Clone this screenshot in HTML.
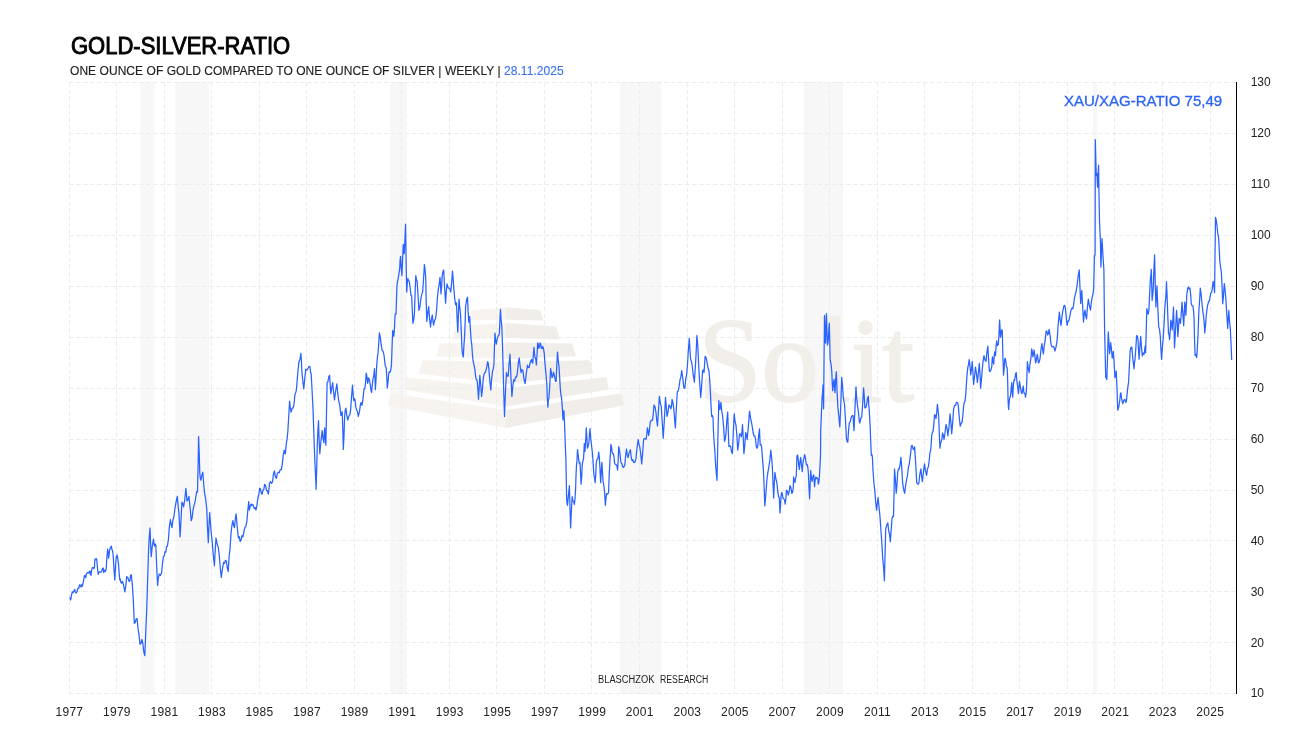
<!DOCTYPE html>
<html><head><meta charset="utf-8">
<style>
html,body{margin:0;padding:0;background:#fff;}
body{width:1307px;height:735px;position:relative;overflow:hidden;-webkit-font-smoothing:antialiased;font-family:"Liberation Sans",sans-serif;color:#1a1a1a;}
svg{position:absolute;left:0;top:0;}
.txt{position:absolute;left:0;top:0;width:1307px;height:735px;will-change:transform;}
.title{position:absolute;left:71px;top:33.3px;font-size:23px;font-weight:normal;-webkit-text-stroke:0.9px #000;line-height:26px;white-space:nowrap;color:#000;transform:scaleX(0.956);transform-origin:0 0;}
.sub{position:absolute;left:70px;top:64px;font-size:12px;letter-spacing:0.05px;-webkit-text-stroke:0.15px currentColor;line-height:15px;white-space:nowrap;color:#222;}
.sub span{color:#3d74f0;}
.ratio{position:absolute;left:1064px;top:92px;font-size:15px;font-weight:normal;-webkit-text-stroke:0.3px #2b63f5;letter-spacing:0px;line-height:18px;white-space:nowrap;color:#2b63f5;}
.yl{position:absolute;left:1250.7px;font-size:12px;line-height:14px;color:#222;}
.xl{position:absolute;top:705px;letter-spacing:0.3px;width:60px;text-align:center;font-size:12px;line-height:14px;color:#222;}
.br{position:absolute;top:673.5px;font-size:10px;line-height:12px;color:#222;white-space:nowrap;transform-origin:0 0;}
</style></head><body>
<svg width="1307" height="735" viewBox="0 0 1307 735">
<rect x="140.4" y="82" width="13.9" height="612" fill="#f7f7f7"/>
<rect x="175.4" y="82" width="34.0" height="612" fill="#f7f7f7"/>
<rect x="389.9" y="82" width="17.2" height="612" fill="#f7f7f7"/>
<rect x="619.8" y="82" width="41.5" height="612" fill="#f7f7f7"/>
<rect x="803.8" y="82" width="39.4" height="612" fill="#f7f7f7"/>
<rect x="1093.0" y="82" width="4.3" height="612" fill="#f7f7f7"/>
<polygon points="506.0,307.3 472.0,310.0 468.3,320.5 506.0,319.8" fill="#f7f4ef"/><polygon points="506.0,307.3 540.0,310.0 543.7,320.5 506.0,319.8" fill="#f1eeea"/><polygon points="506.0,322.8 456.0,326.5 452.0,339.5 506.0,338.0" fill="#f7f4ef"/><polygon points="506.0,322.8 556.0,326.5 560.0,339.5 506.0,338.0" fill="#f1eeea"/><polygon points="506.0,342.5 440.0,343.5 436.0,356.3 506.0,359.0" fill="#f7f4ef"/><polygon points="506.0,342.5 572.0,343.5 576.0,356.3 506.0,359.0" fill="#f1eeea"/><polygon points="506.0,362.0 422.0,360.2 419.0,373.5 506.0,384.0" fill="#f7f4ef"/><polygon points="506.0,362.0 590.0,360.2 593.0,373.5 506.0,384.0" fill="#f1eeea"/><polygon points="506.0,388.0 405.5,377.0 403.5,389.5 506.0,406.5" fill="#f7f4ef"/><polygon points="506.0,388.0 606.5,377.0 608.5,389.5 506.0,406.5" fill="#f1eeea"/><polygon points="506.0,410.0 390.0,393.2 388.0,405.6 506.0,428.0" fill="#f7f4ef"/><polygon points="506.0,410.0 622.0,393.2 624.0,405.6 506.0,428.0" fill="#f1eeea"/>
<text x="698" y="400.5" font-family="Liberation Serif" font-size="121" fill="#f2efea" stroke="#f2efea" stroke-width="2" textLength="216" lengthAdjust="spacingAndGlyphs">Solit</text>
<g stroke="#ececec" stroke-width="1" stroke-dasharray="4.6 2.4"><line x1="69" y1="82.5" x2="1236" y2="82.5"/><line x1="69" y1="133.5" x2="1236" y2="133.5"/><line x1="69" y1="184.5" x2="1236" y2="184.5"/><line x1="69" y1="235.5" x2="1236" y2="235.5"/><line x1="69" y1="286.5" x2="1236" y2="286.5"/><line x1="69" y1="337.5" x2="1236" y2="337.5"/><line x1="69" y1="388.5" x2="1236" y2="388.5"/><line x1="69" y1="439.5" x2="1236" y2="439.5"/><line x1="69" y1="490.5" x2="1236" y2="490.5"/><line x1="69" y1="540.5" x2="1236" y2="540.5"/><line x1="69" y1="591.5" x2="1236" y2="591.5"/><line x1="69" y1="642.5" x2="1236" y2="642.5"/><line x1="69" y1="693.5" x2="1236" y2="693.5"/><line x1="69.5" y1="82.5" x2="69.5" y2="694"/><line x1="116.5" y1="82.5" x2="116.5" y2="694"/><line x1="164.5" y1="82.5" x2="164.5" y2="694"/><line x1="211.5" y1="82.5" x2="211.5" y2="694"/><line x1="259.5" y1="82.5" x2="259.5" y2="694"/><line x1="306.5" y1="82.5" x2="306.5" y2="694"/><line x1="354.5" y1="82.5" x2="354.5" y2="694"/><line x1="401.5" y1="82.5" x2="401.5" y2="694"/><line x1="449.5" y1="82.5" x2="449.5" y2="694"/><line x1="496.5" y1="82.5" x2="496.5" y2="694"/><line x1="544.5" y1="82.5" x2="544.5" y2="694"/><line x1="591.5" y1="82.5" x2="591.5" y2="694"/><line x1="639.5" y1="82.5" x2="639.5" y2="694"/><line x1="687.5" y1="82.5" x2="687.5" y2="694"/><line x1="734.5" y1="82.5" x2="734.5" y2="694"/><line x1="782.5" y1="82.5" x2="782.5" y2="694"/><line x1="829.5" y1="82.5" x2="829.5" y2="694"/><line x1="877.5" y1="82.5" x2="877.5" y2="694"/><line x1="924.5" y1="82.5" x2="924.5" y2="694"/><line x1="972.5" y1="82.5" x2="972.5" y2="694"/><line x1="1019.5" y1="82.5" x2="1019.5" y2="694"/><line x1="1067.5" y1="82.5" x2="1067.5" y2="694"/><line x1="1114.5" y1="82.5" x2="1114.5" y2="694"/><line x1="1162.5" y1="82.5" x2="1162.5" y2="694"/><line x1="1210.5" y1="82.5" x2="1210.5" y2="694"/></g>
<path d="M69.5,598.1 L70.0,597.8 L70.5,600.0 L71.0,598.6 L71.4,595.2 L72.4,591.8 L73.3,592.6 L74.3,590.0 L74.8,589.4 L75.2,591.9 L76.2,593.0 L77.1,591.4 L77.9,588.3 L78.7,588.5 L79.5,584.8 L80.0,584.9 L80.5,586.7 L81.2,586.9 L81.9,584.3 L82.2,584.4 L82.4,586.2 L83.3,582.1 L84.3,576.2 L84.9,575.3 L85.5,577.1 L85.8,577.7 L86.2,574.3 L87.4,572.6 L88.6,572.9 L89.0,573.1 L89.5,571.0 L90.1,571.4 L90.7,575.2 L91.1,575.2 L91.4,571.0 L92.3,567.7 L93.3,567.6 L93.9,568.7 L94.5,567.1 L94.8,560.9 L95.2,559.0 L95.7,559.7 L96.2,558.6 L96.7,559.2 L97.1,563.8 L97.7,570.3 L98.3,574.3 L99.2,572.1 L100.0,571.9 L101.0,572.2 L101.9,570.5 L102.6,568.1 L103.3,568.1 L103.5,572.2 L103.8,572.4 L104.6,570.1 L105.4,571.5 L106.2,568.6 L106.7,560.2 L107.1,555.2 L107.3,553.4 L107.6,549.0 L108.1,552.0 L108.6,558.1 L109.0,555.2 L109.5,550.5 L110.5,547.5 L111.4,546.2 L111.9,549.4 L112.4,550.5 L112.8,552.0 L113.3,557.1 L114.0,569.9 L114.8,580.0 L115.5,567.1 L116.2,556.7 L116.7,557.4 L117.1,554.8 L117.8,558.4 L118.6,564.8 L119.2,573.6 L119.8,580.0 L120.2,578.8 L120.6,581.4 L121.5,583.2 L122.5,581.4 L123.7,585.5 L124.8,591.9 L125.8,585.9 L126.7,576.7 L127.8,577.5 L129.0,581.4 L129.8,581.2 L130.6,575.2 L131.4,574.8 L131.9,581.2 L132.4,585.2 L133.4,602.1 L134.3,623.3 L135.2,622.7 L136.2,618.8 L137.1,618.6 L138.1,629.0 L139.0,634.7 L140.0,644.3 L140.9,643.4 L141.9,639.5 L142.9,644.0 L143.8,652.0 L144.8,655.7 L145.8,631.0 L146.7,610.0 L147.6,581.1 L148.6,549.0 L149.3,536.5 L150.0,528.0 L150.6,543.5 L151.2,556.6 L152.3,546.1 L153.5,539.2 L154.1,544.3 L154.6,546.2 L155.2,544.0 L155.8,545.0 L156.7,566.7 L157.6,585.5 L158.4,577.8 L159.3,574.0 L160.4,575.5 L161.6,572.8 L162.5,563.2 L163.4,556.6 L164.2,556.2 L165.0,551.6 L165.8,552.1 L166.6,546.6 L167.4,546.2 L168.4,539.5 L169.4,526.4 L170.4,519.5 L171.2,524.7 L172.0,527.6 L173.0,519.7 L174.0,516.3 L175.0,508.0 L176.2,501.4 L177.3,496.4 L178.1,505.9 L178.9,512.6 L179.5,523.7 L180.1,536.9 L181.0,520.5 L181.9,502.2 L182.8,503.6 L183.6,506.8 L184.8,499.4 L185.9,488.3 L186.4,493.7 L187.0,501.0 L187.9,499.8 L188.9,496.4 L190.1,507.2 L191.2,520.7 L192.1,517.7 L193.1,509.7 L194.0,505.6 L195.2,501.2 L196.3,494.0 L196.9,491.3 L197.5,491.8 L198.1,466.3 L198.6,436.7 L199.2,453.0 L199.8,473.2 L200.4,478.7 L200.9,480.2 L201.9,475.0 L202.8,472.1 L203.6,483.3 L204.4,491.8 L205.6,498.6 L206.7,508.0 L207.5,527.4 L208.3,542.7 L209.0,525.5 L209.7,512.6 L210.5,524.0 L211.3,533.4 L212.3,543.2 L213.4,556.1 L214.4,565.8 L215.2,550.8 L216.0,538.0 L217.2,544.1 L218.3,547.3 L219.3,555.7 L220.3,568.5 L221.3,577.4 L222.4,569.1 L223.6,562.4 L224.5,563.4 L225.5,560.3 L226.4,561.2 L227.3,568.0 L228.2,571.6 L229.1,556.7 L230.1,547.9 L231.0,533.4 L231.9,525.5 L232.9,520.7 L233.7,525.8 L234.5,527.6 L235.3,519.0 L236.1,513.8 L237.2,526.8 L238.4,538.0 L239.3,536.7 L240.1,541.5 L241.0,540.4 L241.9,535.7 L242.9,536.9 L243.8,532.3 L244.8,527.5 L245.8,526.7 L246.8,521.9 L247.8,510.8 L248.7,501.6 L249.1,507.5 L249.4,510.0 L250.2,506.1 L251.1,504.0 L251.9,505.7 L252.8,504.6 L253.6,506.5 L254.4,508.7 L255.2,507.6 L256.0,510.0 L256.9,505.4 L257.9,498.2 L258.8,494.6 L259.7,488.1 L260.5,489.2 L261.4,493.5 L262.2,494.2 L263.0,490.1 L263.8,489.7 L264.6,484.4 L265.5,485.2 L266.5,490.3 L267.4,490.6 L268.3,494.2 L268.9,490.0 L269.5,483.2 L270.5,481.5 L271.5,483.4 L272.5,482.0 L273.4,474.5 L274.4,470.9 L275.4,476.8 L276.4,478.3 L277.2,473.8 L278.1,472.2 L279.2,472.8 L280.2,469.6 L281.3,469.7 L282.3,464.1 L283.2,455.4 L284.2,450.1 L284.8,453.1 L285.4,453.8 L286.2,444.1 L287.1,439.3 L287.9,430.5 L288.8,415.0 L289.6,401.1 L290.4,408.7 L291.1,412.1 L292.1,408.1 L293.0,408.2 L294.0,404.8 L294.6,397.7 L295.2,393.7 L295.9,392.1 L296.5,388.8 L297.7,373.8 L298.9,361.9 L299.9,359.8 L300.9,353.3 L301.4,360.5 L301.9,371.7 L302.9,382.0 L303.8,388.8 L304.8,377.8 L305.8,369.2 L307.0,369.9 L308.2,368.0 L309.1,366.4 L310.0,366.8 L310.6,372.3 L311.2,374.1 L312.1,391.0 L313.1,410.9 L314.0,438.5 L314.9,462.4 L315.5,474.6 L316.1,489.3 L316.7,468.4 L317.3,445.2 L317.9,431.0 L318.5,420.7 L319.1,439.4 L319.8,453.8 L321.0,440.2 L322.2,430.5 L323.0,438.5 L323.9,442.7 L324.3,433.4 L324.7,428.0 L325.3,438.4 L325.9,445.2 L326.5,412.8 L327.1,382.7 L327.9,381.8 L328.8,376.5 L329.6,375.3 L330.2,385.3 L330.8,393.7 L331.8,387.4 L332.7,382.7 L333.6,392.5 L334.5,399.9 L335.7,390.7 L336.9,383.9 L337.8,393.7 L338.6,399.9 L339.8,405.5 L340.9,415.4 L341.5,415.0 L342.2,411.7 L342.8,428.4 L343.3,449.4 L344.0,435.5 L344.6,417.2 L345.2,410.5 L345.9,408.1 L346.8,415.4 L347.7,420.0 L348.6,416.6 L349.5,415.4 L350.1,413.8 L350.6,409.9 L351.6,396.4 L352.5,385.1 L353.1,394.0 L353.8,400.7 L354.4,398.6 L355.0,399.8 L355.8,406.9 L356.5,409.9 L357.4,411.1 L358.3,416.3 L359.5,411.4 L360.6,403.5 L361.3,402.7 L362.0,405.3 L362.9,399.4 L363.9,389.7 L364.4,388.3 L364.8,388.8 L365.5,382.7 L366.2,373.2 L366.9,376.2 L367.5,383.3 L367.9,382.4 L368.4,377.8 L369.4,379.6 L370.3,385.1 L371.0,390.3 L371.6,392.5 L372.3,384.6 L373.0,378.7 L373.8,375.6 L374.5,368.6 L374.9,377.9 L375.4,389.7 L376.0,379.7 L376.7,365.9 L377.4,357.3 L378.0,353.0 L378.7,344.3 L379.4,332.8 L380.4,337.9 L381.3,345.7 L382.2,350.6 L383.1,351.2 L384.1,355.8 L385.0,364.0 L385.6,366.9 L386.2,367.7 L386.8,376.8 L387.3,387.9 L388.0,382.5 L388.6,375.0 L389.2,371.6 L389.9,372.3 L390.6,371.0 L391.4,365.9 L391.9,352.0 L392.3,340.2 L392.5,337.4 L392.7,330.6 L393.2,331.2 L393.8,336.1 L394.5,327.3 L395.1,315.0 L395.6,313.3 L396.0,314.1 L396.4,301.9 L396.9,286.6 L397.5,281.5 L398.2,278.3 L398.9,274.1 L399.7,268.2 L400.1,260.1 L400.6,256.3 L401.2,267.7 L401.9,275.6 L402.6,258.5 L403.3,244.4 L403.8,251.1 L404.3,253.5 L405.0,237.4 L405.6,224.2 L406.1,260.2 L406.7,292.1 L407.3,283.2 L407.9,278.3 L408.5,280.8 L409.2,281.1 L409.9,285.9 L410.7,293.0 L411.1,295.6 L411.6,295.7 L412.2,308.4 L412.9,323.3 L413.6,320.3 L414.4,314.1 L415.1,293.7 L415.8,275.6 L416.5,279.7 L417.1,281.1 L418.0,294.8 L418.9,310.4 L419.9,307.0 L420.8,299.4 L421.7,294.5 L422.6,292.1 L423.5,279.7 L424.4,264.5 L425.0,269.3 L425.7,277.4 L426.2,301.5 L426.8,321.4 L427.8,312.7 L428.7,306.7 L429.6,318.9 L430.5,326.9 L431.4,319.4 L432.3,315.0 L433.0,321.6 L433.6,325.1 L434.6,320.4 L435.5,318.7 L436.1,314.5 L436.7,308.6 L437.4,298.0 L438.2,290.2 L439.1,284.9 L440.0,277.4 L440.5,284.8 L441.0,293.9 L441.6,286.7 L442.2,275.6 L442.9,271.8 L443.7,270.0 L444.6,288.0 L445.6,303.1 L446.3,291.6 L447.0,283.8 L448.1,287.7 L449.2,288.4 L449.9,289.0 L450.7,292.1 L451.6,283.1 L452.5,271.0 L453.1,278.1 L453.8,288.4 L454.7,298.5 L455.6,304.9 L456.1,302.9 L456.5,302.8 L457.1,319.1 L457.8,332.2 L458.4,314.6 L459.0,299.2 L459.8,307.7 L460.5,313.9 L461.2,329.4 L462.0,348.7 L462.6,354.4 L463.3,357.0 L463.9,345.8 L464.5,337.7 L465.1,324.0 L465.6,306.5 L466.6,299.8 L467.5,297.3 L468.1,311.1 L468.8,322.1 L469.2,317.7 L469.7,316.6 L470.4,329.6 L471.1,339.5 L471.8,345.3 L472.4,354.2 L473.1,361.0 L473.9,364.3 L474.8,368.8 L475.6,376.2 L476.3,379.6 L477.0,379.9 L477.8,388.1 L478.5,399.2 L479.1,389.4 L479.8,375.3 L480.7,384.1 L481.6,396.4 L482.5,388.8 L483.4,377.2 L484.4,372.8 L485.3,372.6 L486.5,368.3 L487.7,361.6 L488.3,363.7 L488.9,368.9 L489.9,381.6 L490.8,390.0 L491.7,378.4 L492.6,370.7 L493.2,368.9 L493.9,365.2 L494.4,348.2 L495.0,333.1 L495.6,340.0 L496.3,344.1 L497.2,339.1 L498.1,335.9 L498.8,335.6 L499.4,333.1 L499.9,320.3 L500.5,309.3 L501.1,319.7 L501.8,326.7 L502.5,345.0 L503.1,367.1 L503.8,393.9 L504.5,416.6 L505.4,393.6 L506.4,372.6 L507.3,376.2 L508.2,376.2 L509.1,363.5 L510.0,354.2 L510.9,376.3 L511.9,396.4 L512.8,386.1 L513.7,379.9 L514.6,381.2 L515.6,377.0 L516.5,377.2 L517.4,372.9 L518.3,363.0 L519.2,357.9 L520.2,366.7 L521.1,372.6 L522.0,369.5 L522.9,370.7 L524.0,379.1 L525.1,383.6 L526.3,373.4 L527.5,365.2 L528.4,367.6 L529.3,367.1 L530.4,361.7 L531.5,359.4 L532.1,362.5 L532.8,363.0 L533.4,354.1 L534.0,347.4 L534.5,353.7 L535.1,357.5 L535.8,359.4 L536.4,364.9 L537.0,354.7 L537.7,342.8 L538.2,344.0 L538.8,348.3 L539.5,347.0 L540.1,342.8 L540.8,344.7 L541.4,348.3 L542.1,348.7 L542.8,346.5 L543.5,348.5 L544.3,353.9 L545.0,363.7 L545.6,370.4 L546.2,376.8 L546.9,385.0 L547.3,398.2 L547.8,407.1 L548.3,400.6 L548.9,397.9 L549.8,385.4 L550.6,368.5 L551.3,372.2 L552.0,377.7 L552.8,376.1 L553.5,372.2 L554.1,374.1 L554.8,377.7 L555.5,381.4 L556.1,381.4 L556.8,365.5 L557.5,352.0 L558.2,360.3 L559.0,366.7 L559.6,376.3 L560.3,388.7 L561.0,395.4 L561.6,397.9 L562.3,407.0 L563.0,419.9 L563.5,416.5 L563.9,410.7 L564.4,420.7 L564.9,432.8 L565.4,448.0 L565.9,459.1 L566.2,476.3 L566.6,496.7 L567.0,502.8 L567.5,505.3 L568.5,494.6 L569.4,485.7 L570.0,507.7 L570.6,528.0 L571.4,510.6 L572.2,496.7 L572.8,500.4 L573.3,501.4 L573.8,502.0 L574.4,504.5 L575.0,498.8 L575.6,488.9 L576.0,476.2 L576.4,466.9 L577.0,460.2 L577.5,449.7 L578.1,454.3 L578.8,460.7 L579.4,463.5 L580.0,462.3 L580.5,472.4 L581.1,484.2 L581.7,476.8 L582.2,465.4 L582.9,460.8 L583.5,459.1 L583.9,452.6 L584.3,443.5 L584.6,445.8 L585.0,451.3 L585.6,441.6 L586.3,427.8 L586.8,436.8 L587.4,448.2 L588.2,446.0 L589.0,441.9 L589.5,433.7 L590.0,428.6 L590.6,437.2 L591.3,443.5 L592.1,450.3 L592.9,459.1 L593.5,468.7 L594.1,476.3 L594.7,478.6 L595.2,482.6 L595.8,473.5 L596.3,462.3 L597.0,459.5 L597.6,459.1 L598.2,456.8 L598.7,452.1 L599.3,457.6 L599.9,466.9 L600.3,476.0 L600.7,482.6 L601.3,470.9 L601.9,462.3 L602.5,472.7 L603.0,481.0 L603.8,485.2 L604.6,492.0 L605.0,499.5 L605.4,505.3 L606.0,498.3 L606.6,493.6 L607.5,494.0 L608.5,492.8 L609.3,473.4 L610.1,457.6 L610.5,452.5 L610.9,444.3 L611.5,446.7 L612.0,451.3 L612.6,453.9 L613.2,453.6 L613.9,455.8 L614.5,462.3 L615.2,464.4 L616.0,464.6 L616.8,465.4 L617.6,470.1 L618.2,459.8 L618.7,446.6 L619.5,450.2 L620.3,456.8 L620.8,461.9 L621.3,463.0 L622.0,463.6 L622.6,466.9 L623.8,467.3 L624.9,464.6 L625.7,455.0 L626.5,449.0 L627.3,455.5 L628.1,457.6 L629.2,452.4 L630.4,449.7 L631.2,457.2 L632.0,460.7 L632.8,459.7 L633.6,462.3 L634.8,462.4 L635.9,459.1 L637.0,448.0 L638.2,439.6 L639.0,444.5 L639.8,446.9 L640.8,454.6 L641.7,464.0 L642.7,452.6 L643.6,439.3 L644.8,438.4 L646.0,439.3 L646.7,435.4 L647.4,427.9 L648.0,430.5 L648.7,435.5 L649.5,429.8 L650.2,422.1 L651.4,420.2 L652.5,420.2 L653.2,414.6 L654.0,405.0 L655.0,406.8 L656.0,412.6 L656.8,421.0 L657.5,426.0 L658.5,410.0 L659.4,396.4 L660.3,402.8 L661.3,406.9 L662.2,421.4 L663.2,438.3 L664.4,419.3 L665.5,397.4 L666.2,405.9 L667.0,416.4 L668.0,412.1 L668.9,405.0 L669.8,405.7 L670.8,408.8 L671.5,406.2 L672.1,399.3 L673.0,402.8 L674.0,410.7 L674.7,420.9 L675.4,427.9 L676.3,408.7 L677.3,391.7 L678.2,391.0 L679.2,386.0 L680.0,379.7 L680.9,377.1 L681.7,370.7 L682.7,377.5 L683.6,386.0 L684.2,388.3 L684.9,387.9 L685.7,379.1 L686.6,374.8 L687.4,366.0 L688.3,351.1 L689.3,338.3 L690.0,350.3 L690.6,359.3 L691.4,361.3 L692.1,365.0 L693.2,374.7 L694.4,382.1 L695.0,371.7 L695.6,363.1 L696.2,350.7 L696.9,335.5 L697.4,340.8 L697.9,347.9 L698.6,363.9 L699.4,378.3 L700.0,386.6 L700.7,397.4 L701.7,385.2 L702.6,370.7 L703.3,370.0 L704.0,372.6 L704.5,366.0 L705.1,356.4 L706.0,357.4 L707.0,362.1 L708.0,368.1 L708.9,370.7 L709.6,378.5 L710.3,390.0 L711.0,405.3 L711.7,416.5 L712.4,415.6 L713.0,417.4 L713.4,428.9 L713.8,437.8 L714.7,448.9 L715.6,464.3 L716.3,473.3 L717.0,480.3 L717.9,438.6 L718.8,400.6 L719.4,406.8 L720.0,409.5 L720.5,405.1 L720.9,402.4 L721.8,411.4 L722.7,416.5 L723.6,426.9 L724.5,441.3 L725.2,439.4 L725.9,434.2 L726.8,421.3 L727.7,412.1 L728.3,431.3 L728.9,446.6 L729.8,445.6 L730.7,446.6 L731.5,451.7 L732.4,453.7 L733.3,432.3 L734.2,413.9 L735.1,421.6 L736.0,425.4 L736.9,435.9 L737.7,450.2 L738.6,444.2 L739.5,434.2 L740.4,433.9 L741.3,436.9 L741.9,432.7 L742.5,424.5 L743.2,437.3 L743.9,453.7 L744.8,444.9 L745.7,432.5 L746.4,434.9 L747.1,439.6 L748.0,430.7 L748.9,420.1 L749.2,414.7 L749.6,411.2 L750.5,417.9 L751.4,421.9 L752.2,426.3 L753.1,432.5 L754.0,436.2 L754.9,436.0 L755.6,439.7 L756.3,446.6 L757.0,448.3 L757.7,446.6 L758.6,436.1 L759.5,428.9 L759.9,438.7 L760.2,444.9 L760.9,444.3 L761.6,446.6 L762.5,458.9 L763.4,469.6 L764.1,485.8 L764.8,505.9 L765.8,494.9 L766.9,480.3 L767.8,472.6 L768.7,467.9 L769.8,460.6 L770.8,450.2 L771.5,456.4 L772.3,466.1 L773.0,482.9 L773.7,498.0 L774.3,483.3 L774.9,472.3 L775.8,478.3 L776.7,482.0 L777.3,486.4 L777.9,492.7 L778.6,496.5 L779.3,498.0 L779.6,503.6 L780.0,512.9 L780.5,505.3 L781.1,495.5 L781.7,492.6 L782.2,493.3 L783.0,498.2 L783.8,498.8 L784.5,500.0 L785.2,504.2 L785.9,498.5 L786.5,490.1 L787.4,491.1 L788.2,495.0 L789.1,492.1 L790.0,485.7 L790.9,487.6 L791.8,493.3 L792.5,492.3 L793.3,487.9 L793.5,480.8 L793.6,477.0 L794.3,480.6 L795.0,482.4 L795.6,478.1 L796.3,475.9 L796.6,467.3 L796.9,456.3 L797.5,455.0 L798.0,457.4 L798.7,464.6 L799.4,469.4 L800.0,461.8 L800.7,457.4 L801.5,465.3 L802.3,471.6 L802.8,464.7 L803.4,459.6 L804.0,458.3 L804.5,454.7 L805.2,456.5 L805.9,461.8 L806.5,464.9 L807.2,464.5 L807.9,467.9 L808.5,474.8 L809.0,488.0 L809.6,498.8 L810.2,483.1 L810.7,470.5 L811.4,477.4 L812.1,481.3 L812.9,476.6 L813.7,474.8 L814.2,481.8 L814.6,486.8 L815.2,479.8 L815.9,477.0 L816.7,478.6 L817.5,478.1 L817.9,478.9 L818.3,484.1 L818.8,482.7 L819.4,477.0 L820.0,465.8 L820.5,456.3 L820.6,444.9 L820.7,430.7 L821.5,411.6 L822.2,396.4 L822.6,392.9 L823.0,385.0 L823.3,395.5 L823.6,408.8 L824.0,363.3 L824.5,315.5 L825.0,328.2 L825.5,343.1 L826.0,330.5 L826.4,313.6 L826.9,328.2 L827.4,345.0 L827.8,343.8 L828.3,339.3 L828.8,330.2 L829.3,323.1 L829.8,343.2 L830.2,360.2 L831.0,363.8 L831.8,371.7 L832.2,382.2 L832.7,390.7 L833.4,383.1 L834.0,379.3 L834.5,387.5 L835.0,392.6 L835.6,380.1 L836.3,371.7 L837.1,391.6 L837.9,407.9 L838.8,416.3 L839.8,426.9 L840.8,404.2 L841.7,377.4 L842.5,385.4 L843.2,396.4 L843.9,401.0 L844.5,404.0 L845.5,420.3 L846.4,438.3 L847.1,441.7 L847.8,442.1 L848.5,431.2 L849.3,423.1 L850.2,421.5 L851.2,417.4 L852.2,415.5 L853.1,415.5 L853.5,424.4 L854.0,430.7 L855.0,407.6 L856.0,386.9 L856.6,397.4 L857.3,404.0 L858.0,408.9 L858.8,415.5 L859.3,421.2 L859.8,423.1 L860.8,418.3 L861.7,417.4 L862.7,403.6 L863.6,387.9 L864.2,395.8 L864.9,407.9 L865.8,407.7 L866.8,404.0 L867.5,398.1 L868.3,396.4 L868.8,405.3 L869.3,411.7 L869.8,419.5 L870.3,430.0 L870.8,444.0 L871.3,455.3 L871.8,454.2 L872.4,457.4 L873.1,471.7 L873.9,482.7 L874.8,490.6 L875.7,502.4 L876.6,510.2 L877.4,502.7 L878.1,497.5 L879.0,506.8 L879.8,514.4 L880.8,528.2 L881.9,543.9 L882.7,558.2 L883.6,567.3 L884.4,580.8 L885.0,557.1 L885.7,529.2 L886.8,524.9 L887.8,522.8 L888.6,530.3 L889.5,534.0 L890.3,541.8 L891.1,531.3 L892.0,518.6 L892.8,516.2 L893.5,516.5 L894.0,494.9 L894.5,469.0 L895.4,479.1 L896.2,493.3 L897.0,484.7 L897.7,472.2 L898.5,468.9 L899.2,469.0 L900.0,465.3 L900.9,457.4 L901.8,467.9 L902.6,482.7 L903.7,489.6 L904.7,493.3 L905.8,484.1 L906.8,478.5 L907.6,474.5 L908.5,466.9 L909.3,463.8 L910.3,456.2 L911.4,445.8 L912.2,445.5 L913.1,449.0 L913.9,449.7 L914.6,446.9 L915.7,463.6 L916.7,482.7 L917.8,484.1 L918.8,483.8 L919.8,474.3 L920.9,469.0 L921.6,476.3 L922.4,481.7 L923.5,471.3 L924.5,463.8 L925.5,470.9 L926.6,475.4 L927.5,468.9 L928.4,466.6 L929.3,459.5 L930.0,452.6 L930.7,450.0 L931.2,444.0 L931.7,435.7 L932.4,432.1 L933.0,431.9 L933.8,424.6 L934.5,414.8 L935.2,415.1 L936.0,418.6 L936.7,412.8 L937.4,404.3 L938.0,409.5 L938.7,416.7 L939.3,433.4 L939.9,448.1 L940.5,443.7 L941.2,441.4 L941.9,439.2 L942.5,432.9 L943.2,434.7 L944.0,439.5 L945.0,433.0 L946.0,424.3 L947.0,427.9 L947.9,435.7 L949.0,426.9 L950.1,413.8 L950.9,422.4 L951.7,433.8 L952.7,422.4 L953.6,409.0 L954.5,405.7 L955.5,405.5 L956.4,402.4 L957.3,402.5 L958.3,405.2 L959.2,416.6 L960.2,426.2 L961.2,423.2 L962.1,422.4 L962.8,415.9 L963.5,407.1 L964.2,402.7 L965.0,401.4 L965.8,393.9 L966.5,382.4 L967.2,372.9 L967.9,367.1 L968.5,364.7 L969.2,359.5 L970.0,365.8 L970.7,374.8 L971.5,369.6 L972.2,361.4 L972.9,371.5 L973.6,384.3 L974.5,377.0 L975.5,367.1 L976.5,373.9 L977.4,382.4 L978.3,374.0 L979.3,363.3 L980.0,373.5 L980.6,388.1 L981.4,380.5 L982.1,371.0 L983.0,361.8 L984.0,355.7 L985.0,360.2 L986.0,361.4 L987.0,351.8 L987.9,346.2 L988.6,359.7 L989.4,371.0 L989.7,370.1 L990.0,371.5 L990.9,370.2 L991.8,366.6 L992.1,360.3 L992.5,356.8 L993.1,361.9 L993.7,364.1 L994.2,355.9 L994.7,351.9 L995.1,355.7 L995.5,355.5 L996.1,346.1 L996.7,340.8 L997.0,344.1 L997.4,345.7 L997.8,344.3 L998.3,344.5 L999.0,334.0 L999.6,320.0 L1000.0,326.5 L1000.4,337.2 L1000.8,335.9 L1001.3,331.6 L1001.8,329.7 L1002.3,331.0 L1002.6,344.7 L1002.9,356.8 L1003.2,364.6 L1003.5,375.1 L1004.1,369.2 L1004.7,359.2 L1005.3,358.5 L1005.9,361.7 L1006.5,366.7 L1007.2,367.8 L1007.7,382.2 L1008.1,400.9 L1008.4,406.3 L1008.6,409.5 L1009.1,403.0 L1009.6,398.4 L1010.2,397.0 L1010.8,393.5 L1011.3,386.5 L1011.8,382.5 L1012.2,391.6 L1012.7,397.2 L1013.3,386.5 L1013.9,380.0 L1014.5,380.6 L1015.1,377.6 L1015.7,373.4 L1016.3,372.7 L1016.8,380.1 L1017.2,383.7 L1017.8,387.2 L1018.4,393.5 L1018.9,389.0 L1019.4,381.3 L1020.0,384.1 L1020.6,388.6 L1021.4,392.9 L1022.1,393.5 L1022.7,388.7 L1023.3,386.2 L1023.8,391.9 L1024.3,393.5 L1024.9,393.6 L1025.5,397.2 L1026.0,394.1 L1026.5,388.6 L1027.0,374.2 L1027.4,361.7 L1028.3,368.4 L1029.2,372.7 L1029.8,365.5 L1030.4,361.7 L1031.1,357.0 L1031.7,348.8 L1032.3,351.8 L1032.9,356.8 L1033.5,354.3 L1034.1,350.0 L1034.8,354.9 L1035.6,362.9 L1036.4,360.2 L1037.2,354.3 L1037.8,357.3 L1038.4,362.9 L1039.2,362.0 L1040.0,358.8 L1041.0,349.6 L1041.9,343.6 L1042.7,349.6 L1043.4,354.0 L1044.3,345.2 L1045.2,340.2 L1046.1,331.2 L1046.8,331.0 L1047.6,335.0 L1048.3,333.9 L1049.1,329.3 L1050.0,334.9 L1051.0,344.5 L1052.2,346.9 L1053.3,346.4 L1054.1,347.7 L1054.9,351.2 L1056.0,347.1 L1057.1,340.7 L1058.2,324.3 L1059.4,312.1 L1060.2,320.6 L1061.0,325.5 L1062.0,316.6 L1062.9,310.2 L1063.4,308.8 L1063.9,305.7 L1064.7,305.3 L1065.4,307.9 L1066.3,318.3 L1067.2,325.3 L1068.1,321.0 L1068.9,320.7 L1069.8,316.6 L1070.9,310.5 L1072.0,307.9 L1072.8,308.9 L1073.5,305.7 L1074.3,299.1 L1075.2,294.8 L1076.1,291.3 L1077.0,286.1 L1078.1,276.7 L1079.2,269.8 L1080.0,288.0 L1080.7,303.5 L1081.2,295.2 L1081.8,290.5 L1082.7,307.3 L1083.5,322.0 L1084.2,314.1 L1085.0,310.1 L1085.8,316.3 L1086.6,318.8 L1087.4,307.5 L1088.3,299.2 L1089.4,305.7 L1090.5,310.1 L1091.6,300.3 L1092.7,294.8 L1093.2,292.8 L1093.7,288.3 L1094.1,270.1 L1094.4,255.7 L1094.8,255.9 L1095.1,253.8 L1095.2,195.5 L1095.3,139.5 L1095.8,159.5 L1096.3,175.7 L1096.7,173.5 L1097.0,173.8 L1097.3,182.6 L1097.6,187.1 L1098.1,174.7 L1098.6,165.2 L1099.0,194.4 L1099.5,221.4 L1100.0,231.7 L1100.5,244.3 L1100.7,257.1 L1100.9,267.1 L1101.5,251.1 L1102.0,238.6 L1103.0,256.4 L1103.9,270.0 L1104.2,298.8 L1104.6,329.7 L1105.2,355.0 L1105.7,377.5 L1106.2,377.5 L1106.8,379.7 L1107.5,357.9 L1108.3,331.8 L1108.9,341.7 L1109.6,353.6 L1110.2,349.0 L1110.7,342.7 L1111.5,349.5 L1112.2,358.0 L1112.8,356.1 L1113.3,351.4 L1114.1,362.4 L1114.9,377.5 L1115.6,376.3 L1116.2,371.0 L1117.0,388.8 L1117.7,410.2 L1118.8,406.9 L1119.9,399.3 L1120.4,393.9 L1120.9,392.8 L1121.8,399.5 L1122.7,403.7 L1123.8,400.4 L1124.9,399.3 L1125.7,402.5 L1126.4,401.5 L1127.5,389.9 L1128.6,381.9 L1129.3,367.5 L1130.1,351.4 L1130.9,347.5 L1131.8,347.1 L1132.9,359.3 L1134.0,368.8 L1134.5,362.7 L1135.0,359.3 L1135.8,348.7 L1136.6,335.6 L1137.2,335.8 L1137.9,338.1 L1138.5,349.5 L1139.1,359.3 L1139.9,346.7 L1140.7,336.4 L1141.5,347.5 L1142.3,356.0 L1143.2,353.1 L1144.0,354.4 L1144.5,351.3 L1145.1,346.2 L1145.3,347.4 L1145.6,352.8 L1146.2,331.8 L1146.8,308.7 L1147.2,309.9 L1147.7,313.6 L1148.3,313.9 L1148.9,310.3 L1149.7,292.0 L1150.5,277.7 L1150.9,275.0 L1151.3,269.5 L1151.7,284.1 L1152.1,300.5 L1152.7,295.4 L1153.3,287.4 L1153.9,269.8 L1154.6,254.8 L1155.2,283.0 L1155.9,307.0 L1156.5,295.3 L1157.0,285.8 L1157.8,307.5 L1158.7,326.6 L1159.5,329.4 L1160.3,336.4 L1160.9,348.7 L1161.6,359.3 L1162.3,348.1 L1163.1,339.7 L1163.9,326.9 L1164.7,310.3 L1165.2,302.7 L1165.7,298.9 L1166.1,291.2 L1166.5,281.7 L1166.9,291.1 L1167.3,302.1 L1167.9,318.5 L1168.5,333.2 L1169.0,334.4 L1169.6,339.7 L1170.2,331.1 L1170.9,320.1 L1171.6,323.2 L1172.2,329.9 L1172.8,320.5 L1173.5,307.0 L1174.0,326.2 L1174.5,347.9 L1175.5,330.3 L1176.6,310.3 L1177.2,321.2 L1177.8,336.4 L1178.4,329.1 L1179.1,318.5 L1179.8,319.8 L1180.4,323.4 L1181.2,314.6 L1182.0,302.1 L1182.8,312.7 L1183.7,325.8 L1184.2,315.1 L1184.8,302.1 L1185.3,307.8 L1185.9,315.2 L1186.3,306.9 L1186.8,294.8 L1187.6,288.8 L1188.4,286.9 L1189.2,289.2 L1189.9,288.1 L1190.6,293.8 L1191.3,303.8 L1192.1,305.7 L1192.9,306.0 L1193.5,310.5 L1194.0,317.2 L1194.5,337.8 L1195.1,355.4 L1195.9,354.4 L1196.7,357.7 L1197.3,348.6 L1198.0,335.2 L1198.5,321.5 L1198.9,310.5 L1199.6,300.5 L1200.3,288.1 L1201.0,293.4 L1201.8,301.5 L1202.6,309.7 L1203.4,315.0 L1204.1,321.9 L1204.8,333.0 L1205.5,325.1 L1206.3,315.0 L1207.4,306.3 L1208.6,301.5 L1209.3,301.1 L1210.1,297.0 L1210.8,292.8 L1211.5,292.6 L1212.3,288.8 L1213.1,281.3 L1213.8,285.3 L1214.6,292.6 L1215.0,256.2 L1215.5,217.3 L1216.2,220.0 L1216.9,225.2 L1217.8,233.3 L1218.7,238.7 L1219.2,248.0 L1219.8,261.1 L1220.6,267.6 L1221.4,272.3 L1222.1,287.0 L1222.7,303.8 L1223.5,295.6 L1224.3,283.6 L1225.1,290.3 L1225.9,299.3 L1226.8,314.8 L1227.7,328.5 L1228.2,318.7 L1228.8,310.5 L1229.5,321.1 L1230.3,328.5 L1231.0,342.9 L1231.7,359.9" fill="none" stroke="#2962ff" stroke-width="1.25" stroke-linejoin="round"/>
<line x1="1236.5" y1="82" x2="1236.5" y2="694" stroke="#000" stroke-width="1"/>
</svg>
<div class="txt">
<div class="title">GOLD-SILVER-RATIO</div>
<div class="sub">ONE OUNCE OF GOLD COMPARED TO ONE OUNCE OF SILVER | WEEKLY | <span>28.11.2025</span></div>
<div class="ratio">XAU/XAG-RATIO 75,49</div>
<div class="br" style="left:598px;transform:scaleX(0.93)">BLASCHZOK</div><div class="br" style="left:660px;transform:scaleX(0.87)">RESEARCH</div>
<div class="yl" style="top:686.4px">10</div><div class="yl" style="top:635.5px">20</div><div class="yl" style="top:584.6px">30</div><div class="yl" style="top:533.7px">40</div><div class="yl" style="top:482.7px">50</div><div class="yl" style="top:431.8px">60</div><div class="yl" style="top:380.9px">70</div><div class="yl" style="top:330.0px">80</div><div class="yl" style="top:279.1px">90</div><div class="yl" style="top:228.2px">100</div><div class="yl" style="top:177.2px">110</div><div class="yl" style="top:126.3px">120</div><div class="yl" style="top:75.4px">130</div>
<div class="xl" style="left:39.4px">1977</div><div class="xl" style="left:86.9px">1979</div><div class="xl" style="left:134.5px">1981</div><div class="xl" style="left:182.0px">1983</div><div class="xl" style="left:229.5px">1985</div><div class="xl" style="left:277.1px">1987</div><div class="xl" style="left:324.6px">1989</div><div class="xl" style="left:372.2px">1991</div><div class="xl" style="left:419.7px">1993</div><div class="xl" style="left:467.2px">1995</div><div class="xl" style="left:514.8px">1997</div><div class="xl" style="left:562.3px">1999</div><div class="xl" style="left:609.8px">2001</div><div class="xl" style="left:657.4px">2003</div><div class="xl" style="left:704.9px">2005</div><div class="xl" style="left:752.4px">2007</div><div class="xl" style="left:800.0px">2009</div><div class="xl" style="left:847.5px">2011</div><div class="xl" style="left:895.0px">2013</div><div class="xl" style="left:942.6px">2015</div><div class="xl" style="left:990.1px">2017</div><div class="xl" style="left:1037.7px">2019</div><div class="xl" style="left:1085.2px">2021</div><div class="xl" style="left:1132.7px">2023</div><div class="xl" style="left:1180.3px">2025</div>
</div>
</body></html>
